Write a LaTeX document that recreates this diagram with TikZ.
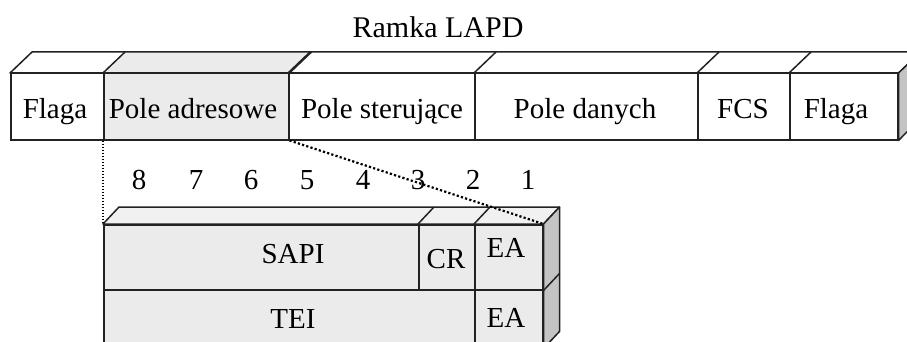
\documentclass[tikz,border=0pt]{standalone}
\usepackage{fontspec}
\setmainfont{Liberation Serif}
\definecolor{lgray}{HTML}{EBEBEB}
\definecolor{tgray}{HTML}{F0F1F0}
\definecolor{dgray}{HTML}{C4C4C4}
\definecolor{linec}{HTML}{222222}
\begin{document}
\begin{tikzpicture}[x=1pt,y=-1pt,
  every node/.style={font=\fontsize{29}{32}\selectfont},
  cell/.style={draw=linec, line width=1.5pt, minimum height=66pt, inner sep=0pt, anchor=north west},
  cellb/.style={draw=linec, line width=1.5pt, fill=lgray, inner sep=0pt, anchor=north west},
  face/.style={draw=linec, line width=1.5pt, line join=round},
  txt/.style={inner sep=0pt, anchor=base},
  dotsthin/.style={dash pattern=on 1.2pt off 1.8pt, line width=1.2pt, black},
  dotsthick/.style={dash pattern=on 2.2pt off 2.2pt, line width=2.2pt, black}]
\useasboundingbox (0,0) rectangle (907,342);
\clip (0,0) rectangle (907,342);
% title
\node[txt, font=\fontsize{30}{34}\selectfont] (title) at (438,38) {Ramka LAPD};
% top frame
\node[cell] (f1) at (10,73) [minimum width=93pt] {};
\node[cell,fill=lgray] (f2) at (103,73) [minimum width=185pt] {};
\node[cell] (f3) at (288,73) [minimum width=186pt] {};
\node[cell] (f4) at (474,73) [minimum width=223pt] {};
\node[cell] (f5) at (697,73) [minimum width=92pt] {};
\node[cell] (f6) at (789,73) [minimum width=108pt] {};
\node[txt] (t1) at (55,119) {Flaga};
\node[txt] (t2) at (193,119) {Pole adresowe};
\node[txt] (t3) at (382,119) {Pole sterujące};
\node[txt] (t4) at (585,119) {Pole danych};
\node[txt] (t5) at (743,119) {FCS};
\node[txt] (t6) at (836,119) {Flaga};
\filldraw[face,fill=white] (f1.north west) -- ++(22,-21) -- ([shift={(22,-21)}]f6.north east) -- (f6.north east) -- cycle;
\filldraw[face,fill=lgray] (f2.north west) -- ++(22,-21) -- ([shift={(22,-21)}]f2.north east) -- (f2.north east) -- cycle;
\foreach \c in {f3,f4,f5,f6} \draw[face] (\c.north west) -- ++(22,-21);
\filldraw[face,fill=dgray] (f6.north east) -- ++(22,-21) -- ++(0,66) -- (f6.south east) -- cycle;
% bit numbers
\foreach \n/\x in {8/139,7/196,6/251,5/307,4/363,3/418,2/473,1/528}
  \node[txt] (b\n) at (\x,189) {\n};
% lower box
\node[cellb, minimum width=315pt, minimum height=65pt] (sapi) at (103,224) {};
\node[cellb, minimum width=56pt, minimum height=65pt] (cr) at (418,224) {};
\node[cellb, minimum width=68pt, minimum height=65pt] (ea1) at (474,224) {};
\node[cellb, minimum width=371pt, minimum height=58pt] (tei) at (103,289) {};
\node[cellb, minimum width=68pt, minimum height=58pt] (ea2) at (474,289) {};
\filldraw[face,fill=tgray] (sapi.north west) -- ++(16,-17) -- ([shift={(16,-17)}]ea1.north east) -- (ea1.north east) -- cycle;
\draw[face] (cr.north west) -- ++(16,-17);
\draw[face] (ea1.north west) -- ++(16,-17);
\filldraw[face,fill=dgray] (ea1.north east) -- ++(16,-17) -- ([shift={(16,-17)}]ea2.south east) -- (ea2.south east) -- cycle;
\draw[face] (ea1.south east) -- ++(16,-17);
\node[txt] (lsapi) at (293,263) {SAPI};
\node[txt] (lcr) at (446,268) {CR};
\node[txt] (lea1) at (506,257) {EA};
\node[txt] (ltei) at (293,328) {TEI};
\node[txt] (lea2) at (506,327) {EA};
% dotted connectors
\draw[dotsthin] (f2.south west) -- (sapi.north west);
\draw[dotsthick] (f2.south east) -- (ea1.north east);
\end{tikzpicture}
\end{document}
